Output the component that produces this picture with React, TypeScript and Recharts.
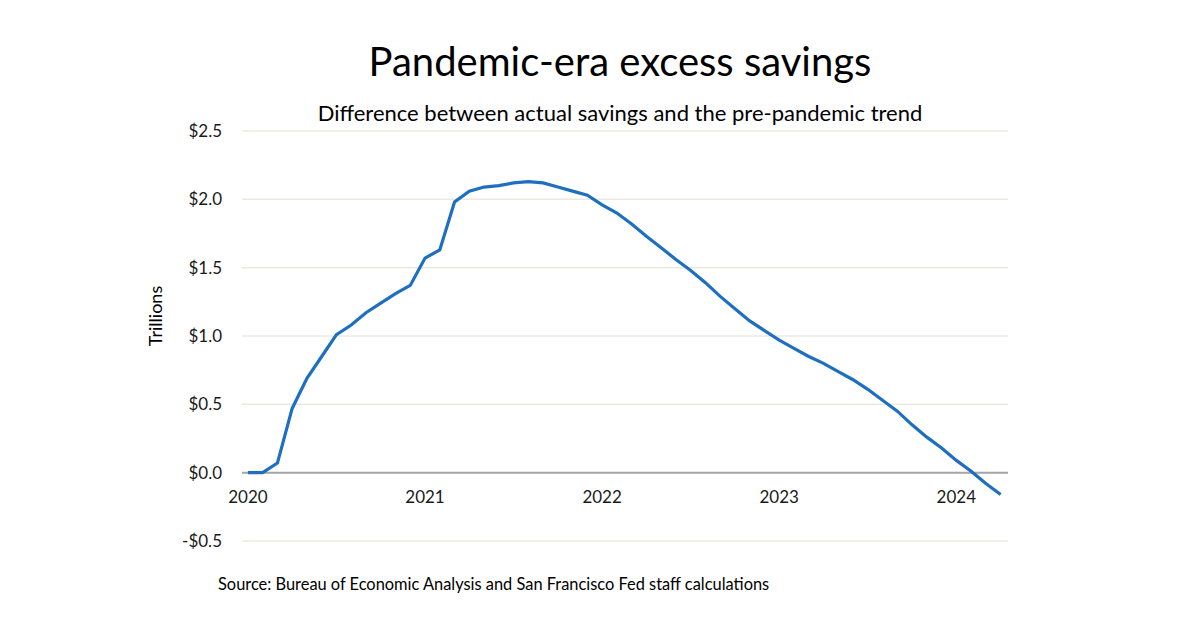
import { LineChart, Line, XAxis, YAxis, CartesianGrid, ReferenceLine } from 'recharts';

// month index 0 = Jan 2020
const months = [
  0, 1, 2, 3, 4, 5, 6, 7, 8, 9, 10, 11,
  12, 13, 14, 15, 16, 17, 18, 19, 20, 21, 22, 23,
  24, 25, 26, 27, 28, 29, 30, 31, 32, 33, 34, 35,
  36, 37, 38, 39, 40, 41, 42, 43, 44, 45, 46, 47,
  48, 49, 50, 51,
];

// excess savings, trillions of dollars
const excessSavings = [
  0.0, 0.0, 0.07, 0.47, 0.69, 0.85, 1.01, 1.08, 1.17, 1.24, 1.31, 1.37,
  1.57, 1.63, 1.98, 2.06, 2.09, 2.10, 2.12, 2.13, 2.12, 2.09, 2.06, 2.03,
  1.96, 1.90, 1.82, 1.73, 1.645, 1.56, 1.48, 1.39, 1.29, 1.20, 1.11, 1.04,
  0.97, 0.91, 0.85, 0.80, 0.74, 0.68, 0.61, 0.53, 0.45, 0.35, 0.26, 0.18,
  0.09, 0.01, -0.08, -0.16,
];

const yearTicks = [0, 12, 24, 36, 48];
const yearLabels = ['2020', '2021', '2022', '2023', '2024'];
const valueTicks = [-0.5, 0, 0.5, 1.0, 1.5, 2.0, 2.5];

const data = months.map((m, i) => ({ m, v: excessSavings[i] }));

const FONT = 'Lato, "Open Sans", sans-serif';
const PLOT_TOP = 131;
const PLOT_H = 410;
const Y_MIN = -0.5;
const Y_MAX = 2.5;
const zeroY = PLOT_TOP + (PLOT_H * (Y_MAX - 0)) / (Y_MAX - Y_MIN);

const fmtMoney = (v: number) => (v < 0 ? `-$${Math.abs(v).toFixed(1)}` : `$${v.toFixed(1)}`);

function YearTick(props: any) {
  const { x, payload } = props;
  const idx = yearTicks.indexOf(payload.value);
  return (
    <text x={x} y={zeroY + 30} textAnchor="middle" fill="#1a1a1a" fontSize={17} fontFamily={FONT}>
      {yearLabels[idx]}
    </text>
  );
}

export default function App() {
  return (
    <div style={{ position: 'absolute', left: 0, top: 0, width: 1200, height: 628, background: '#fff', fontFamily: FONT }}>
      <div style={{ position: 'absolute', left: 0, width: 1240, top: 36, textAlign: 'center', fontSize: 40, color: '#000', lineHeight: '50px' }}>
        Pandemic-era excess savings
      </div>
      <div style={{ position: 'absolute', left: 0, width: 1240, top: 99, textAlign: 'center', fontSize: 22, color: '#000', lineHeight: '28px' }}>
        Difference between actual savings and the pre-pandemic trend
      </div>
      <div
        style={{
          position: 'absolute', left: 155, top: 316, fontSize: 18, color: '#000',
          transform: 'translate(-50%, -50%) rotate(-90deg)', whiteSpace: 'nowrap',
        }}
      >
        Trillions
      </div>
      <div style={{ position: 'absolute', left: 218, top: 574, fontSize: 16.4, color: '#000', whiteSpace: 'nowrap' }}>
        Source: Bureau of Economic Analysis and San Francisco Fed staff calculations
      </div>
      <LineChart
        width={1200}
        height={628}
        data={data}
        margin={{ top: PLOT_TOP, right: 192, bottom: 57, left: 0 }}
        style={{ position: 'absolute', left: 0, top: 0 }}
      >
        <CartesianGrid vertical={false} stroke="#eceadf" strokeWidth={1.5} />
        <XAxis
          dataKey="m"
          type="number"
          domain={[-0.4, 51.5]}
          ticks={yearTicks}
          axisLine={false}
          tickLine={false}
          height={30}
          tick={<YearTick />}
        />
        <YAxis
          type="number"
          domain={[Y_MIN, Y_MAX]}
          ticks={valueTicks}
          width={242}
          axisLine={false}
          tickLine={false}
          tickSize={0}
          tickMargin={20}
          tickFormatter={fmtMoney}
          tick={{ fill: '#1a1a1a', fontSize: 17, fontFamily: FONT }}
        />
        <ReferenceLine y={0} stroke="#a6a6a6" strokeWidth={2} />
        <Line
          type="linear"
          dataKey="v"
          stroke="#1f6fc0"
          strokeWidth={3.2}
          dot={false}
          isAnimationActive={false}
        />
      </LineChart>
    </div>
  );
}
